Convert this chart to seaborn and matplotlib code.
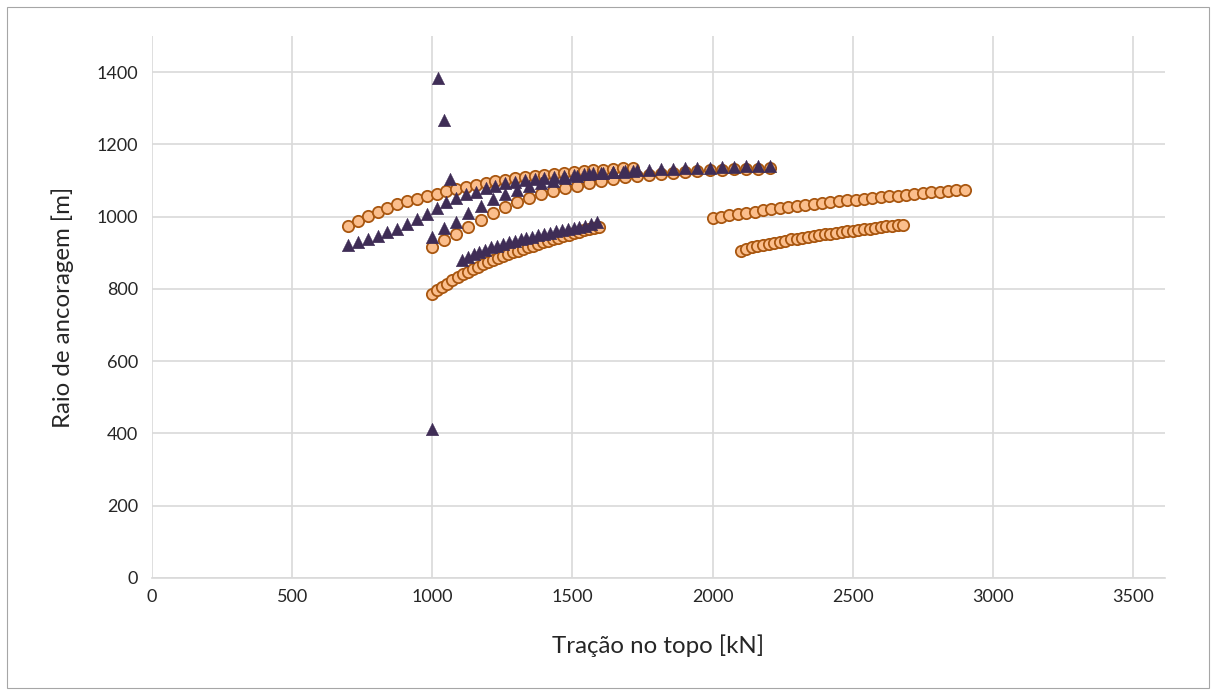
import matplotlib
matplotlib.use("Agg")
import matplotlib.pyplot as plt
from matplotlib.patches import Rectangle
import pandas as pd
import seaborn as sns

# --- series (Tração no topo [kN] x Raio de ancoragem [m]) ---
# círculos laranja
c1_x = [700, 735, 770, 805, 840, 875, 910, 945, 980, 1015, 1050, 1085, 1120, 1155, 1190,
        1225, 1260, 1295, 1330, 1365, 1400, 1435, 1470, 1505, 1540, 1575, 1610, 1645, 1680, 1715]
c1_y = [974, 988, 1002, 1014, 1025, 1034, 1042, 1049, 1056, 1063, 1070, 1076, 1082, 1088, 1093,
        1098, 1102, 1106, 1110, 1113, 1116, 1119, 1122, 1124, 1126, 1128, 1130, 1132, 1134, 1135]

c2_x = [1000, 1043, 1086, 1129, 1172, 1215, 1258, 1301, 1344, 1387, 1430, 1473, 1516, 1559, 1602,
        1645, 1688, 1731, 1774, 1817, 1860, 1903, 1946, 1989, 2032, 2075, 2118, 2161, 2204]
c2_y = [916, 935, 953, 972, 990, 1010, 1026, 1040, 1052, 1062, 1070, 1078, 1086, 1094, 1099,
        1104, 1109, 1113, 1116, 1119, 1122, 1124, 1126, 1128, 1129, 1131, 1132, 1133, 1134]

c3_x = [1000, 1018, 1036, 1054, 1072, 1090, 1108, 1126, 1144, 1162, 1180, 1198, 1216, 1234, 1252,
        1270, 1288, 1306, 1324, 1342, 1360, 1378, 1396, 1414, 1432, 1450, 1468, 1486, 1504, 1522,
        1540, 1558, 1576, 1594]
c3_y = [786, 796, 806, 815, 824, 832, 840, 848, 855, 862, 868, 874, 880, 886, 891,
        896, 901, 906, 911, 916, 920, 925, 929, 933, 938, 942, 946, 950, 954, 958,
        962, 965, 969, 972]

c4_x = [2000, 2030, 2060, 2090, 2120, 2150, 2180, 2210, 2240, 2270, 2300, 2330, 2360, 2390, 2420,
        2450, 2480, 2510, 2540, 2570, 2600, 2630, 2660, 2690, 2720, 2750, 2780, 2810, 2840, 2870, 2900]
c4_y = [996, 1000, 1004, 1008, 1011, 1014, 1018, 1021, 1024, 1027, 1030, 1033, 1035, 1038, 1040,
        1043, 1045, 1047, 1049, 1052, 1054, 1056, 1058, 1060, 1063, 1065, 1067, 1069, 1071, 1073, 1075]

c5_x = [2100, 2120, 2140, 2160, 2180, 2200, 2220, 2240, 2260, 2280, 2300, 2320, 2340, 2360, 2380,
        2400, 2420, 2440, 2460, 2480, 2500, 2520, 2540, 2560, 2580, 2600, 2620, 2640, 2660, 2680]
c5_y = [906, 911, 915, 919, 922, 925, 928, 931, 934, 937, 939, 942, 944, 947, 949,
        951, 953, 955, 957, 959, 961, 963, 965, 967, 969, 971, 973, 974, 976, 978]

# triângulos roxos
t1_x = c1_x
t1_y = [921, 930, 938, 946, 957, 966, 980, 993, 1007, 1024, 1040, 1051, 1063, 1068, 1079,
        1085, 1092, 1096, 1101, 1105, 1108, 1110, 1112, 1115, 1118, 1120, 1122, 1123, 1125, 1127]

t2_x = c2_x
t2_y = [943, 968, 985, 1010, 1029, 1049, 1062, 1074, 1085, 1093, 1099, 1107, 1113, 1117, 1121,
        1124, 1126, 1128, 1130, 1132, 1133, 1134, 1135, 1136, 1137, 1138, 1139, 1140, 1141]

t3_x = [1000, 1021, 1042, 1063, 1105, 1126, 1147, 1168, 1189, 1210, 1231, 1252, 1273, 1294,
        1315, 1336, 1357, 1378, 1399, 1420, 1441, 1462, 1483, 1504, 1525, 1546, 1567, 1588]
t3_y = [413, 1385, 1268, 1105, 880, 888, 897, 903, 909, 915, 920, 925, 929, 933,
        937, 941, 945, 949, 952, 956, 959, 962, 965, 968, 972, 975, 979, 985]

x_ticks = [0, 500, 1000, 1500, 2000, 2500, 3000, 3500]
y_ticks = [0, 200, 400, 600, 800, 1000, 1200, 1400]

circles = pd.DataFrame({"x": c1_x + c2_x + c3_x + c4_x + c5_x,
                        "y": c1_y + c2_y + c3_y + c4_y + c5_y})
triangles = pd.DataFrame({"x": t1_x + t2_x + t3_x,
                          "y": t1_y + t2_y + t3_y})

sns.set_theme(style="white")
plt.rcParams["font.family"] = ["Lato", "DejaVu Sans"]

fig = plt.figure(figsize=(12.16, 6.92), dpi=100)
ax = fig.add_axes([152 / 1216, 1 - 578 / 692, 1013 / 1216, 542 / 692])

sns.scatterplot(data=circles, x="x", y="y", ax=ax, marker="o", s=66,
                color="#FBBE8C", edgecolor="#A8560F", linewidth=1.3, zorder=3)
sns.scatterplot(data=triangles, x="x", y="y", ax=ax, marker="^", s=82,
                color="#3F2D56", edgecolor="#3F2D56", linewidth=0.3, zorder=4)

ax.set_xlim(0, 3614)
ax.set_ylim(0, 1500)
ax.set_xticks(x_ticks)
ax.set_yticks(y_ticks)
ax.grid(True, color="#D9D9D9", linewidth=1.2)
ax.set_axisbelow(True)
for side in ["left", "right", "top"]:
    ax.spines[side].set_visible(False)
ax.spines["bottom"].set_color("#D9D9D9")
ax.spines["bottom"].set_linewidth(1.2)
ax.tick_params(axis="both", length=0, labelsize=13, labelcolor="#262626")
ax.tick_params(axis="x", pad=8)
ax.tick_params(axis="y", pad=10)

ax.set_xlabel("Tração no topo [kN]", fontsize=17.3, color="#262626")
ax.set_ylabel("Raio de ancoragem [m]", fontsize=17.3, color="#262626")
ax.xaxis.set_label_coords(0.5, -0.104)
ax.yaxis.set_label_coords(-0.077, 0.5)

# moldura do gráfico
fig.patches.append(Rectangle((7 / 1216, 4 / 692), 1202 / 1216, 681 / 692,
                             transform=fig.transFigure, fill=False,
                             edgecolor="#A6A6A6", linewidth=0.8))

fig.savefig("out.png", dpi=100)
